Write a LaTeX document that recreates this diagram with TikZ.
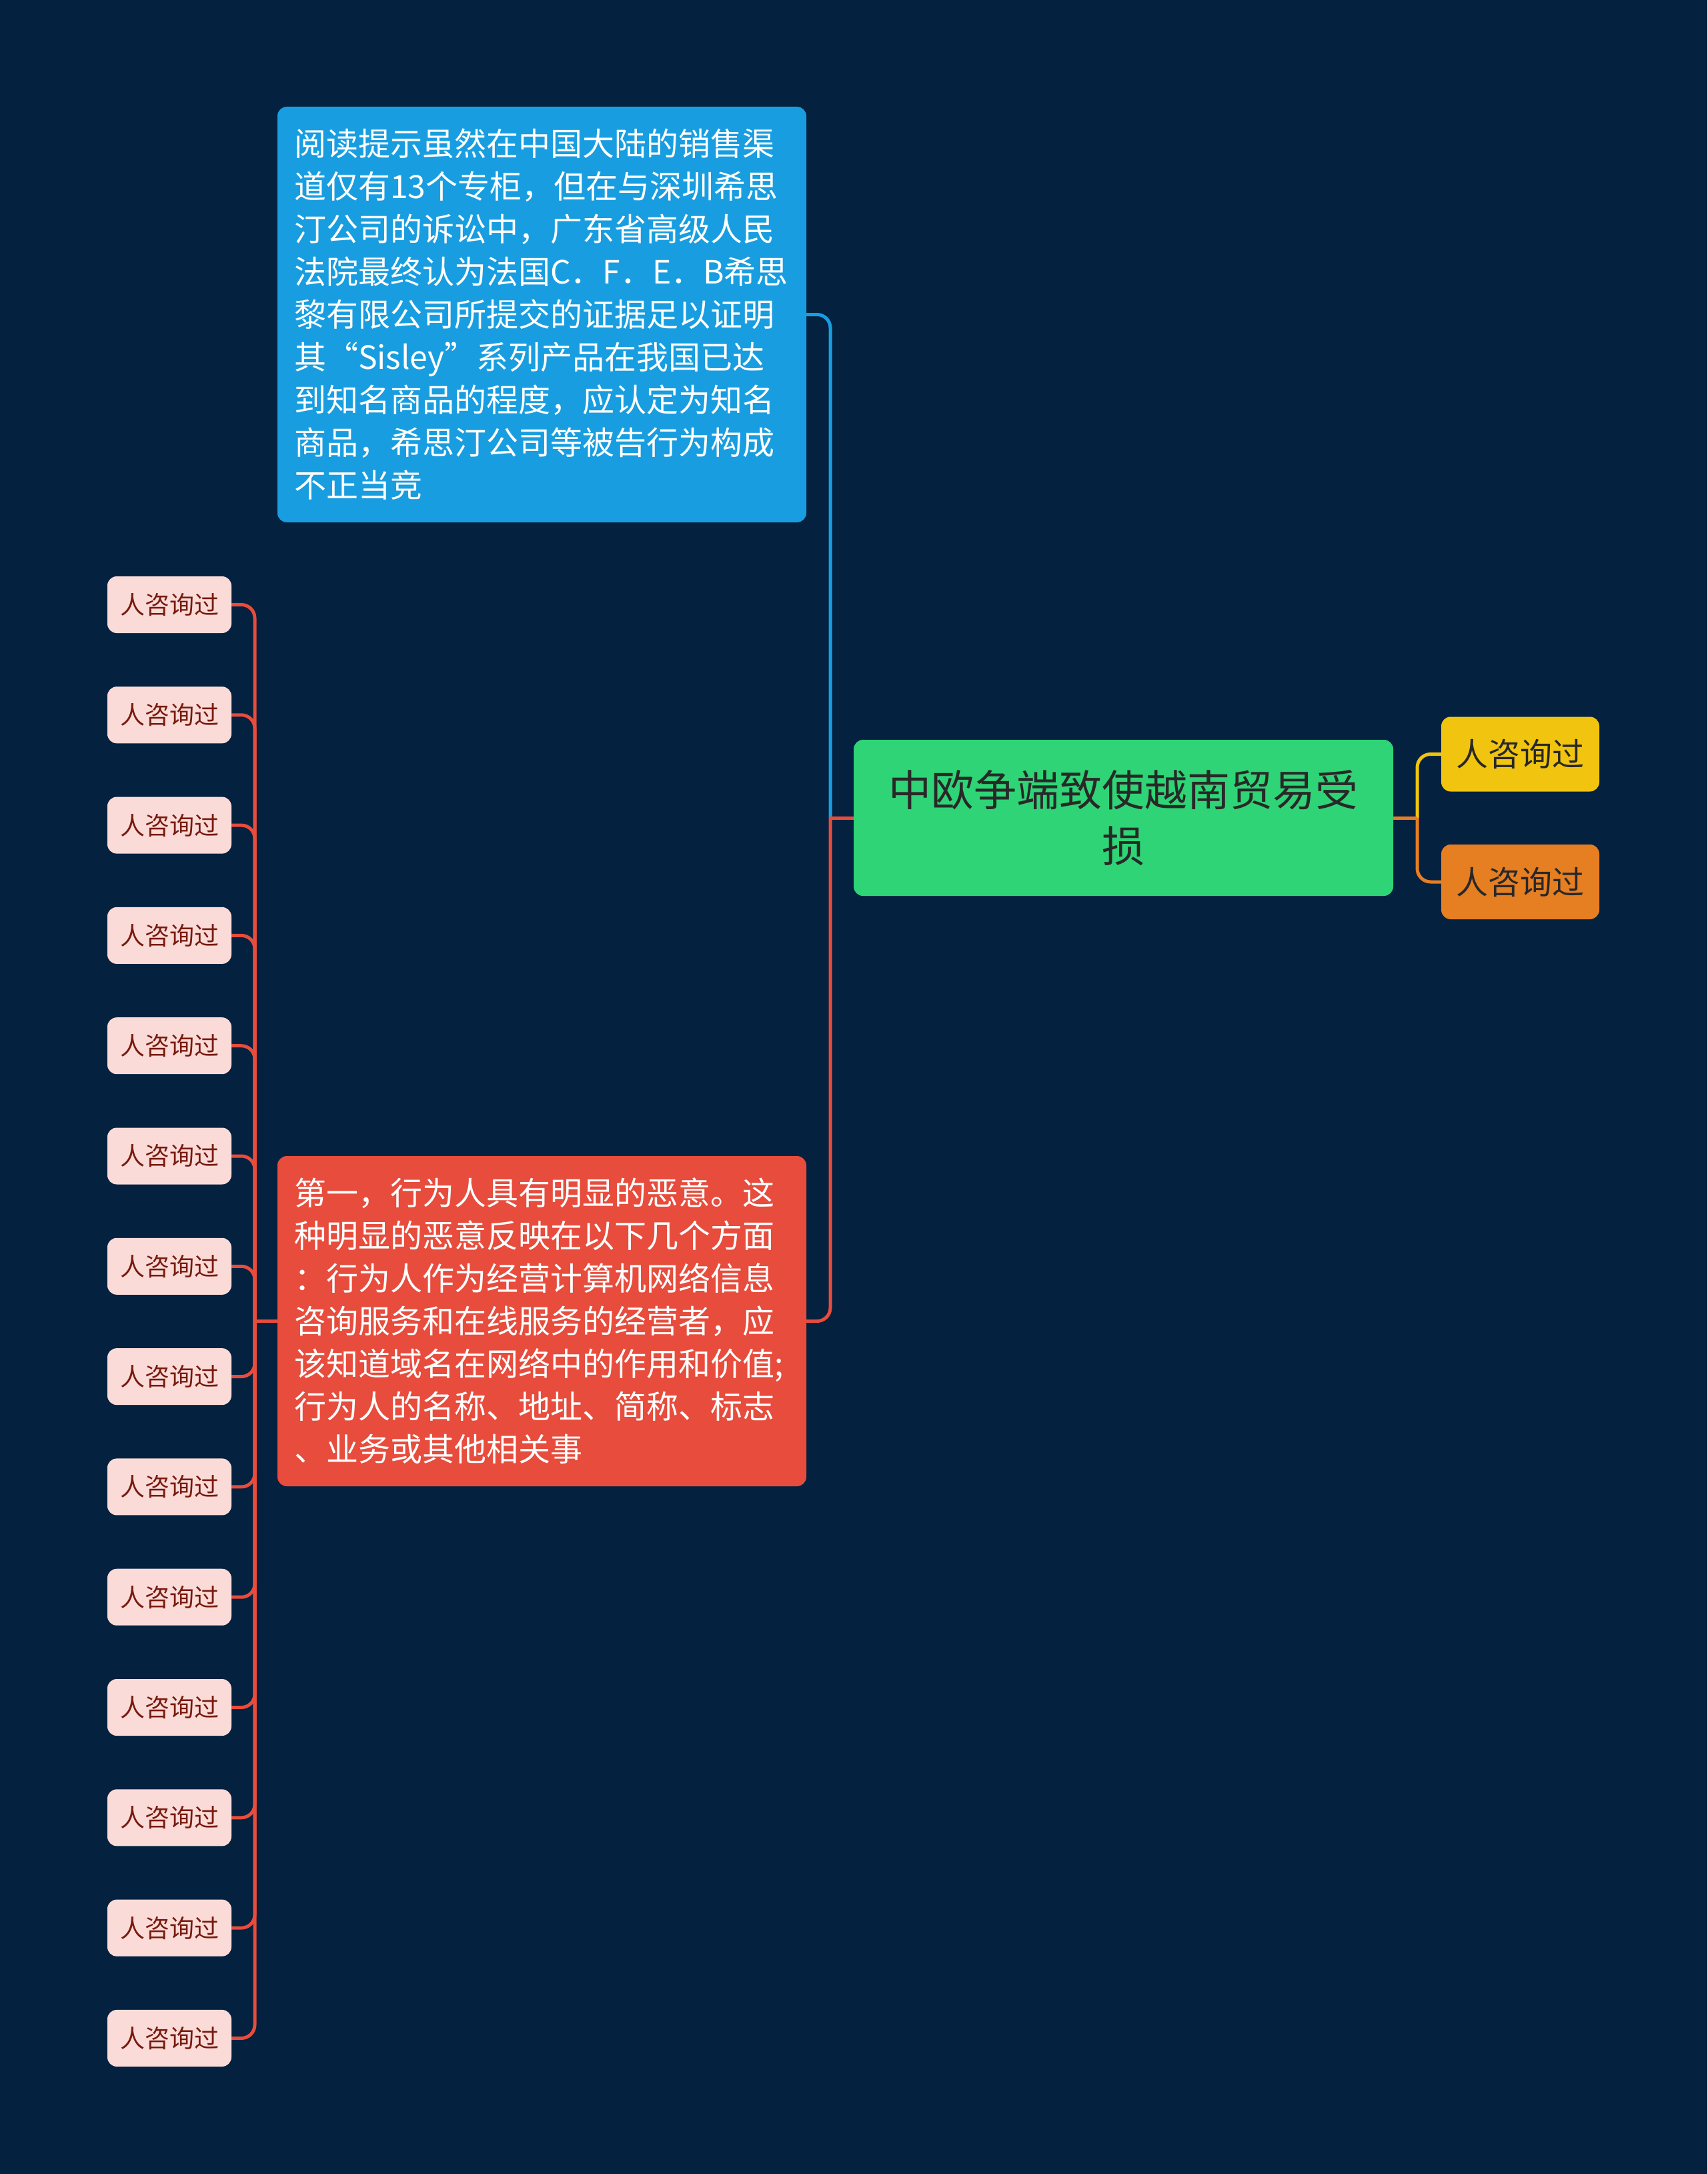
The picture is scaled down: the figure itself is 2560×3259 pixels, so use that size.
\documentclass[tikz,border=0pt]{standalone}
\usepackage{fontspec}
\setmainfont{Noto Sans CJK SC}
\definecolor{bgc}{RGB}{4,33,63}
\definecolor{bluec}{RGB}{24,158,224}
\definecolor{redc}{RGB}{231,76,60}
\definecolor{greenc}{RGB}{46,212,117}
\definecolor{yelc}{RGB}{241,196,15}
\definecolor{orc}{RGB}{230,126,34}
\definecolor{pinkc}{RGB}{250,219,216}
\definecolor{leaftext}{RGB}{120,26,14}
\definecolor{darktext}{RGB}{40,40,40}
\begin{document}
\begin{tikzpicture}[x=1pt,y=-1pt,
  bigbox/.style={rounded corners=14pt, minimum width=793pt, text width=743pt, inner xsep=25pt, inner ysep=0pt, align=left, text=white, font=\fontsize{48}{64}\selectfont},
  rootbox/.style={rounded corners=14pt, fill=greenc, minimum width=809pt, minimum height=234pt, text width=740pt, align=center, text=darktext, font=\fontsize{64}{84}\selectfont},
  sidebox/.style={rounded corners=14pt, minimum width=237pt, minimum height=112pt, inner sep=0pt, text=darktext, font=\fontsize{48}{60}\selectfont},
  leafbox/.style={rounded corners=14pt, fill=pinkc, minimum width=186pt, minimum height=85pt, inner sep=0pt, text=leaftext, font=\fontsize{37}{44}\selectfont},
  conn/.style={line width=5pt, rounded corners=20pt}
]
\fill[bgc] (0,0) rectangle (2560,3259);
\useasboundingbox (0,0) rectangle (2560,3259);

\node[bigbox, fill=bluec, minimum height=623pt] (B) at (812.5,471.5) {阅读提示虽然在中国大陆的销售渠\\道仅有13个专柜，但在与深圳希思\\汀公司的诉讼中，广东省高级人民\\法院最终认为法国C．F．E．B希思\\黎有限公司所提交的证据足以证明\\其“Sisley”系列产品在我国已达\\到知名商品的程度，应认定为知名\\商品，希思汀公司等被告行为构成\\不正当竞};
\node[bigbox, fill=redc, minimum height=495pt] (R) at (812.5,1980.5) {第一，行为人具有明显的恶意。这\\种明显的恶意反映在以下几个方面\\：行为人作为经营计算机网络信息\\咨询服务和在线服务的经营者，应\\该知道域名在网络中的作用和价值;\\行为人的名称、地址、简称、标志\\、业务或其他相关事};
\node[rootbox] (G) at (1684.5,1226) {中欧争端致使越南贸易受\\损};
\node[sidebox, fill=yelc] (Y) at (2279.5,1130.5) {人咨询过};
\node[sidebox, fill=orc] (O) at (2279.5,1322) {人咨询过};

\coordinate (C) at (1245,1226);
\coordinate (D) at (2125,1226);
\coordinate (J) at (382,1980.5);

\foreach \i in {1,...,14} {
  \node[leafbox] (L\i) at (254,{906.5+165.3*(\i-1)}) {人咨询过};
  \draw[conn, redc] (L\i.east) -| (J);
}
\draw[conn, redc] (R.west) -- (J);

\draw[conn, bluec] (B.east) -| (C);
\draw[conn, redc] (R.east) -| (C);
\draw[conn, redc] (G.west) -- (C);

\draw[conn, yelc] (Y.west) -| (D);
\draw[conn, orc] (O.west) -| (D);
\draw[conn, orc] (G.east) -- (D);
\end{tikzpicture}
\end{document}
